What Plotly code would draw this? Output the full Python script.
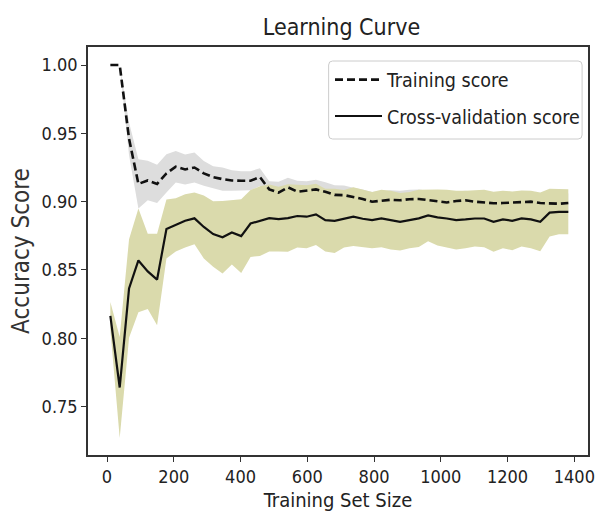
import plotly.graph_objects as go

train_sizes = [10, 38, 66, 94, 122, 150, 178, 206, 234, 262, 290, 318, 346, 374, 402,
               430, 458, 486, 514, 542, 570, 598, 626, 654, 682, 710, 738, 766, 794, 822,
               850, 878, 906, 934, 962, 990, 1018, 1046, 1074, 1102, 1130, 1158, 1186, 1214,
               1242, 1270, 1298, 1326, 1354, 1382]

train_mean = [1.000, 1.000, 0.946, 0.913, 0.9155, 0.913, 0.9207, 0.9256, 0.9236, 0.925,
              0.9207, 0.918, 0.9165, 0.9155, 0.9153, 0.9153, 0.918, 0.909, 0.9066, 0.9105,
              0.9073, 0.908, 0.909, 0.9073, 0.905, 0.9048, 0.9036, 0.902, 0.900, 0.9005,
              0.9014, 0.901, 0.9018, 0.902, 0.901, 0.9005, 0.8994, 0.9005, 0.901, 0.900,
              0.8995, 0.8988, 0.899, 0.8994, 0.8995, 0.900, 0.899, 0.8988, 0.8985, 0.899]

train_std = [0.0, 0.0, 0.012, 0.018, 0.0145, 0.014, 0.014, 0.0115, 0.011, 0.011,
             0.009, 0.008, 0.0085, 0.0075, 0.007, 0.007, 0.0065, 0.006, 0.008, 0.007,
             0.008, 0.007, 0.007, 0.007, 0.007, 0.007, 0.0065, 0.007, 0.007, 0.007,
             0.007, 0.007, 0.007, 0.007, 0.007, 0.007, 0.007, 0.007, 0.007, 0.007,
             0.007, 0.007, 0.007, 0.007, 0.007, 0.007, 0.007, 0.007, 0.007, 0.007]

cv_mean = [0.8165, 0.764, 0.8365, 0.857, 0.849, 0.843, 0.880, 0.883, 0.886, 0.8878,
           0.8815, 0.8763, 0.874, 0.8775, 0.8748, 0.884, 0.8858, 0.888, 0.8873, 0.888,
           0.8895, 0.889, 0.8907, 0.8865, 0.886, 0.8875, 0.889, 0.8875, 0.8865, 0.8877,
           0.8865, 0.8853, 0.8865, 0.8878, 0.890, 0.8885, 0.8877, 0.8865, 0.887, 0.8877,
           0.8877, 0.8853, 0.887, 0.886, 0.8877, 0.887, 0.8853, 0.892, 0.8926, 0.8926]

cv_std = [0.010, 0.037, 0.036, 0.038, 0.0275, 0.0335, 0.0215, 0.0195, 0.0195, 0.019,
          0.023, 0.024, 0.0265, 0.0235, 0.027, 0.0245, 0.0255, 0.0245, 0.0237, 0.0247,
          0.023, 0.023, 0.0225, 0.023, 0.0235, 0.021, 0.0215, 0.021, 0.0205, 0.021,
          0.0215, 0.021, 0.0205, 0.021, 0.019, 0.0205, 0.021, 0.0215, 0.021, 0.0205,
          0.021, 0.022, 0.021, 0.0215, 0.0205, 0.021, 0.0215, 0.0175, 0.0165, 0.0165]

x_ticks = [0, 200, 400, 600, 800, 1000, 1200, 1400]
y_ticks = [0.75, 0.80, 0.85, 0.90, 0.95, 1.00]

FONT = "DejaVu Sans Condensed, DejaVu Sans, sans-serif"

train_up = [m + s for m, s in zip(train_mean, train_std)]
train_lo = [m - s for m, s in zip(train_mean, train_std)]
cv_up = [m + s for m, s in zip(cv_mean, cv_std)]
cv_lo = [m - s for m, s in zip(cv_mean, cv_std)]

fig = go.Figure()
fig.add_trace(go.Scatter(x=train_sizes, y=train_up, mode="lines", line=dict(width=0),
                         showlegend=False, hoverinfo="skip"))
fig.add_trace(go.Scatter(x=train_sizes, y=train_lo, mode="lines", line=dict(width=0),
                         fill="tonexty", fillcolor="#DDDDDD", showlegend=False, hoverinfo="skip"))
fig.add_trace(go.Scatter(x=train_sizes, y=cv_up, mode="lines", line=dict(width=0),
                         showlegend=False, hoverinfo="skip"))
fig.add_trace(go.Scatter(x=train_sizes, y=cv_lo, mode="lines", line=dict(width=0),
                         fill="tonexty", fillcolor="rgb(218,218,172)", showlegend=False, hoverinfo="skip"))
fig.add_trace(go.Scatter(x=train_sizes, y=train_mean, mode="lines", name="Training score",
                         legendgroup="a",
                         line=dict(color="#111111", width=2.6, dash="8px,4px")))
fig.add_trace(go.Scatter(x=train_sizes, y=cv_mean, mode="lines", name="Cross-validation score",
                         legendgroup="b",
                         line=dict(color="#111111", width=2.2)))

axis_common = dict(showline=True, linecolor="#333333", linewidth=1.5, mirror=True,
                   ticks="outside", ticklen=5, tickwidth=1.3, tickcolor="#333333",
                   showgrid=False, zeroline=False,
                   tickfont=dict(family=FONT, size=18, color="#222222"))

# legend frame (rounded, drawn as a shape in paper coordinates)
W, H = 606, 525
ml, mr, mt, mb = 88, 11, 47, 70
pw, ph = W - ml - mr, H - mt - mb


def px2paper(xp, yp):
    return (xp - ml) / pw, (H - mb - yp) / ph


x0, y0 = px2paper(332, 61)
x1, y1 = px2paper(589, 139)
rx, ry = 4 / pw, 4 / ph
path = (f"M {x0+rx} {y0} L {x1-rx} {y0} Q {x1} {y0} {x1} {y0-ry} "
        f"L {x1} {y1+ry} Q {x1} {y1} {x1-rx} {y1} L {x0+rx} {y1} Q {x0} {y1} {x0} {y1+ry} "
        f"L {x0} {y0-ry} Q {x0} {y0} {x0+rx} {y0} Z")

fig.update_layout(
    width=W, height=H,
    margin=dict(l=ml, r=mr, t=mt, b=mb),
    plot_bgcolor="white", paper_bgcolor="white",
    shapes=[dict(type="path", path=path, xref="paper", yref="paper",
                 line=dict(color="#CCCCCC", width=1), fillcolor="white", layer="above")],
    title=dict(text="Learning Curve", x=0.5635, xanchor="center", y=0.948, yanchor="middle",
               font=dict(family=FONT, size=23, color="#222222")),
    xaxis=dict(range=[-57, 1441], tickvals=x_ticks,
               title=dict(text="Training Set Size", font=dict(family=FONT, size=20, color="#222222"),
                          standoff=7),
               **axis_common),
    yaxis=dict(range=[0.7146, 1.0132], tickvals=y_ticks, tickformat=".2f",
               title=dict(text="Accuracy Score", font=dict(family=FONT, size=24, color="#333333"),
                          standoff=5),
               **axis_common),
    legend=dict(x=0.484, y=0.967, xanchor="left", yanchor="top",
                bgcolor="rgba(0,0,0,0)", borderwidth=0,
                traceorder="grouped", tracegroupgap=8, itemwidth=47,
                font=dict(family=FONT, size=19.5, color="#222222")),
)

fig.write_html("out.html")
